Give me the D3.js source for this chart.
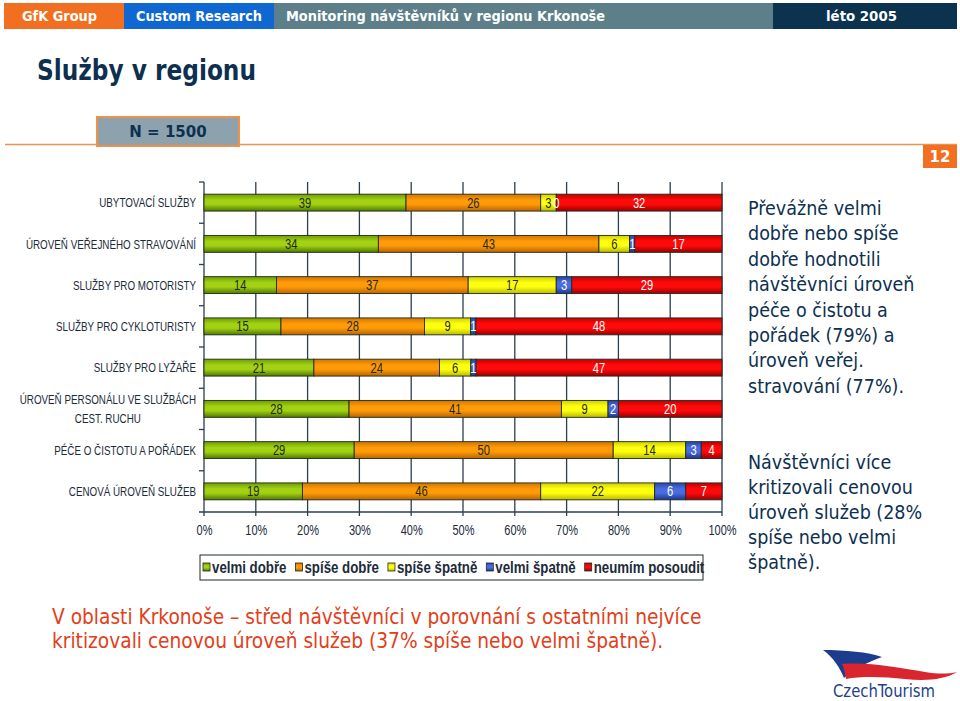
<!DOCTYPE html>
<html><head><meta charset="utf-8">
<script src="https://cdn.jsdelivr.net/npm/d3@7"></script>
<style>body{margin:0;background:#fff}svg{display:block}</style>
</head><body><svg id="c" width="960" height="701"></svg>
<script>
const categories = ["UBYTOVACÍ SLUŽBY","ÚROVEŇ VEŘEJNÉHO STRAVOVÁNÍ","SLUŽBY PRO MOTORISTY","SLUŽBY PRO CYKLOTURISTY","SLUŽBY PRO LYŽAŘE","ÚROVEŇ PERSONÁLU VE SLUŽBÁCH\nCEST. RUCHU","PÉČE O ČISTOTU A POŘÁDEK","CENOVÁ ÚROVEŇ SLUŽEB"];
const seriesNames = ["velmi dobře","spíše dobře","spíše špatně","velmi špatně","neumím posoudit"];
const velmiDobre   = [39,34,14,15,21,28,29,19];
const spiseDobre   = [26,43,37,28,24,41,50,46];
const spiseSpatne  = [3,6,17,9,6,9,14,22];
const velmiSpatne  = [0,1,3,1,1,2,3,6];
const neumimPosoudit = [32,17,29,48,47,20,4,7];
const xTickValues = [0,0.1,0.2,0.3,0.4,0.5,0.6,0.7,0.8,0.9,1];

const headerTexts = ["GfK Group","Custom Research","Monitoring návštěvníků v regionu Krkonoše","léto 2005"];
const titleText = "Služby v regionu";
const nText = "N = 1500";
const pageNo = "12";
const note1 = ["Převážně velmi","dobře nebo spíše","dobře hodnotili","návštěvníci úroveň","péče o čistotu a","pořádek (79%) a","úroveň veřej.","stravování (77%)."];
const note2 = ["Návštěvníci více","kritizovali cenovou","úroveň služeb (28%","spíše nebo velmi","špatně)."];
const bottomNote = ["V oblasti Krkonoše – střed návštěvníci v porovnání s ostatními nejvíce","kritizovali cenovou úroveň služeb (37% spíše nebo velmi špatně)."];

const seriesValues = [velmiDobre, spiseDobre, spiseSpatne, velmiSpatne, neumimPosoudit];
const gradStops = [
  ["#6f9c00","#a3d214","#4f7800"],
  ["#d07600","#ff9a08","#b86400"],
  ["#cfcf00","#ffff10","#b9b900"],
  ["#2746a8","#4a6ce0","#1c358c"],
  ["#c00000","#ff0a0a","#9a0000"]
];
const labelColors = ["#1d2a12","#1d2a12","#1d2a12","#ffffff","#ffffff"];
const narrow = "'Liberation Sans',Arial,sans-serif";
const navy = "#0d3050";
const axisCol = "#2b3f4f";

// emulate a narrow face: Arial-metric font compressed horizontally about its anchor point
function narrowify(sel, f){
  f = f || 0.78;
  sel.each(function(){
    const el = d3.select(this);
    const ax = +(el.attr("x") || 0);
    el.attr("transform", `translate(${ax},0) scale(${f},1) translate(${-ax},0)`);
  });
  return f;
}

const svg = d3.select("#c");
const defs = svg.append("defs");
gradStops.forEach((s,i)=>{
  const g = defs.append("linearGradient").attr("id","g"+i).attr("x1",0).attr("y1",0).attr("x2",0).attr("y2",1);
  g.append("stop").attr("offset","0%").attr("stop-color",s[0]);
  g.append("stop").attr("offset","35%").attr("stop-color",s[1]);
  g.append("stop").attr("offset","60%").attr("stop-color",s[1]);
  g.append("stop").attr("offset","100%").attr("stop-color",s[2]);
});

// Header
const hdr = [[4,124,"#f26f21"],[124,274,"#0f67d2"],[274,773,"#5c7f8a"],[773,957,"#0b3350"]];
hdr.forEach(h=>{
  svg.append("rect").attr("x",h[0]).attr("y",3).attr("width",h[1]-h[0]).attr("height",26).attr("fill",h[2]);
});
const hdrText = [[22,75],[136,126],[286,319],[826,71]];
hdrText.forEach((t,i)=>{
  svg.append("text").attr("x",t[0]).attr("y",21).attr("fill","#fff")
    .attr("font-family","'DejaVu Sans Condensed','DejaVu Sans',sans-serif").attr("font-weight","bold").attr("font-size",14)
    .attr("textLength",t[1]).attr("lengthAdjust","spacingAndGlyphs").text(headerTexts[i]);
});

// Title
svg.append("text").attr("x",37).attr("y",80).attr("fill",navy)
  .attr("font-family","'DejaVu Sans Condensed','DejaVu Sans',sans-serif").attr("font-weight","bold").attr("font-size",28)
  .attr("textLength",219).attr("lengthAdjust","spacingAndGlyphs").text(titleText);

// orange line + N box
svg.append("line").attr("x1",5).attr("x2",957).attr("y1",144.5).attr("y2",144.5).attr("stroke","#f0914a").attr("stroke-width",1.5);
svg.append("rect").attr("x",97).attr("y",117).attr("width",142).attr("height",29).attr("fill","#8ea2ae").attr("stroke","#f0914a").attr("stroke-width",2);
svg.append("text").attr("x",168).attr("y",137).attr("text-anchor","middle").attr("fill",navy)
  .attr("font-family","'DejaVu Sans',sans-serif").attr("font-weight","bold").attr("font-size",15).text(nText);
svg.append("rect").attr("x",923).attr("y",145).attr("width",34).attr("height",23).attr("fill","#f26f21");
svg.append("text").attr("x",940).attr("y",162).attr("text-anchor","middle").attr("fill","#fff")
  .attr("font-family","'DejaVu Sans',sans-serif").attr("font-weight","bold").attr("font-size",15).text(pageNo);

// Chart
const x = d3.scaleLinear().domain([0,1]).range([204,722]);
const y = d3.scaleBand().domain(categories).range([182,512]).paddingInner(0.59).paddingOuter(0.295);
const plotBottom = y.range()[1];

const rows = categories.map((c,i)=>{
  const o = {cat:c};
  seriesNames.forEach((s,j)=>o[s]=seriesValues[j][i]);
  return o;
});
const stacked = d3.stack().keys(seriesNames).offset(d3.stackOffsetExpand)(rows);

// gridlines
svg.append("g").selectAll("line").data(xTickValues.slice(1)).join("line")
  .attr("x1",d=>x(d)).attr("x2",d=>x(d)).attr("y1",182).attr("y2",plotBottom)
  .attr("stroke",axisCol).attr("stroke-width",1.3);
// category axis
svg.append("line").attr("x1",x(0)).attr("x2",x(0)).attr("y1",182).attr("y2",plotBottom).attr("stroke",axisCol).attr("stroke-width",1.3);
const bounds = categories.map(c=>y(c)-y.step()*y.paddingInner()/2);
svg.append("g").selectAll("line").data(bounds).join("line")
  .attr("x1",x(0)-5).attr("x2",x(0)).attr("y1",d=>d).attr("y2",d=>d).attr("stroke",axisCol).attr("stroke-width",1.3);
// value axis line + ticks
svg.append("line").attr("x1",x(0)-5).attr("x2",x(1)).attr("y1",plotBottom).attr("y2",plotBottom).attr("stroke",axisCol).attr("stroke-width",1.3);
svg.append("g").selectAll("line").data(xTickValues).join("line")
  .attr("x1",d=>x(d)).attr("x2",d=>x(d)).attr("y1",plotBottom).attr("y2",plotBottom+4).attr("stroke",axisCol).attr("stroke-width",1.3);

// bars
const layers = svg.append("g").selectAll("g").data(stacked).join("g").attr("fill",(d,i)=>`url(#g${i})`);
layers.selectAll("rect").data(d=>d).join("rect")
  .attr("x",d=>x(d[0])).attr("width",d=>x(d[1])-x(d[0]))
  .attr("y",d=>y(d.data.cat)).attr("height",y.bandwidth())
  .attr("stroke","#1e2a22").attr("stroke-width",0.9);
// labels
stacked.forEach((layer,i)=>{
  const t = svg.append("g").selectAll("text").data(layer).join("text")
    .attr("x",d=>x((d[0]+d[1])/2)).attr("y",d=>y(d.data.cat)+y.bandwidth()/2).attr("dy","0.36em")
    .attr("text-anchor","middle").attr("fill",labelColors[i])
    .attr("font-family",narrow).attr("font-size",14)
    .text(d=>d.data[layer.key]);
  narrowify(t, 0.8);
});

// category labels
const catSize = 13.2;
const catF = 0.745;
categories.forEach(c=>{
  const lines = c.split("\n");
  const cy = y(c)+y.bandwidth()/2;
  if(lines.length===1){
    const t = svg.append("text").attr("fill","#1c2b3a").attr("font-family",narrow).attr("font-size",catSize)
      .attr("x",196).attr("y",cy).attr("dy","0.36em").attr("text-anchor","end").text(c);
    narrowify(t, catF);
  } else {
    const tmp = svg.append("text").attr("font-family",narrow).attr("font-size",catSize).text(lines[0]);
    const w = tmp.node().getComputedTextLength()*catF; tmp.remove();
    lines.forEach((l,k)=>{
      const t = svg.append("text").attr("fill","#1c2b3a").attr("font-family",narrow).attr("font-size",catSize)
        .attr("x",196-w/2).attr("y",cy-9.5+k*19).attr("dy","0.36em").attr("text-anchor","middle").text(l);
      narrowify(t, catF);
    });
  }
});

// x axis tick labels
const xAxis = d3.axisBottom(x).tickValues(xTickValues).tickFormat(d3.format(".0%")).tickSize(0).tickPadding(13);
const xa = svg.append("g").attr("transform",`translate(0,${plotBottom})`).call(xAxis);
xa.select(".domain").remove();
narrowify(xa.selectAll("text").attr("font-family",narrow).attr("font-size",14.5).attr("fill","#1c2b3a"), 0.76);

// legend
const lg = svg.append("g");
lg.append("rect").attr("x",200).attr("y",555).attr("width",503).attr("height",25).attr("fill","#fff").attr("stroke","#1e2a22").attr("stroke-width",1);
let lx = 203;
seriesNames.forEach((s,i)=>{
  lg.append("rect").attr("x",lx).attr("y",563).attr("width",7).attr("height",8).attr("fill",`url(#g${i})`).attr("stroke","#1e2a22").attr("stroke-width",0.8);
  const t = lg.append("text").attr("x",lx+9).attr("y",567.5).attr("dy","0.36em").attr("fill","#1c2b3a")
    .attr("font-family",narrow).attr("font-size",16).attr("font-weight","bold").text(s);
  const f = narrowify(t, 0.83);
  lx = lx + 9 + t.node().getComputedTextLength()*f + 9;
});

// right notes
const noteFont = "'DejaVu Sans Condensed','DejaVu Sans',sans-serif";
note1.forEach((l,k)=>{
  svg.append("text").attr("x",748).attr("y",215+k*25.4).attr("fill",navy).attr("font-family",noteFont).attr("font-size",19.5).text(l);
});
note2.forEach((l,k)=>{
  svg.append("text").attr("x",748).attr("y",469+k*25).attr("fill",navy).attr("font-family",noteFont).attr("font-size",19.5).text(l);
});
// bottom note
bottomNote.forEach((l,k)=>{
  svg.append("text").attr("x",52).attr("y",624+k*24).attr("fill","#e2401a").attr("font-family",noteFont).attr("font-size",20.7).text(l);
});

// logo
const lgo = svg.append("g");
lgo.append("path").attr("d","M823,650 C845,650 868,652 882,657 C868,662 852,670 844,678 C840,668 833,657 823,650 Z").attr("fill","#1d3c8e");
lgo.append("path").attr("d","M842,664 C870,662 900,668 925,672 C938,674 948,674 957,672 C944,680 925,681 905,679 C885,677 862,676 846,679 C845,673 844,668 842,664 Z").attr("fill","#d9262e");
lgo.append("text").attr("x",833).attr("y",697).attr("fill","#1e3f8a").attr("font-family","'DejaVu Sans Condensed','DejaVu Sans',sans-serif").attr("font-size",17)
  .attr("textLength",102).attr("lengthAdjust","spacingAndGlyphs").text("CzechTourism");
</script></body></html>
